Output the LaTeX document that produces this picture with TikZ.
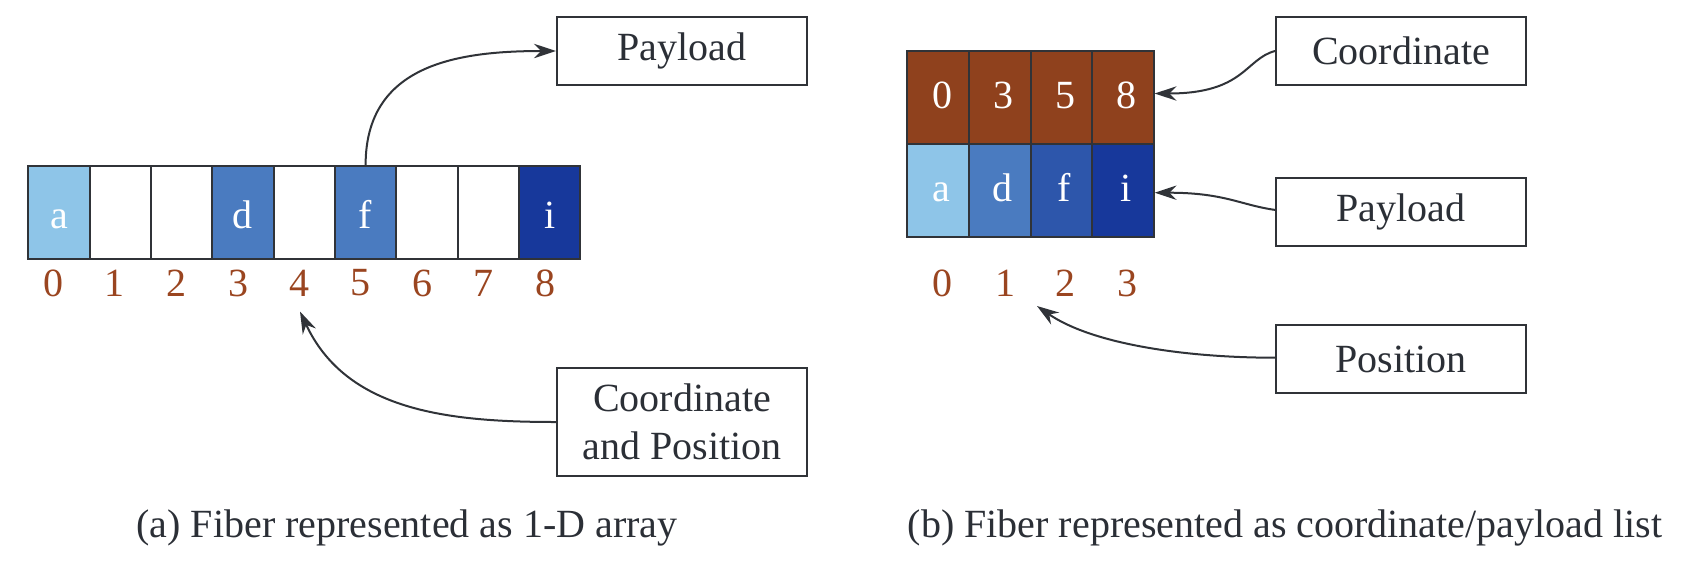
\documentclass[tikz,border=0pt]{standalone}
\usepackage{fontspec}
\setmainfont{Liberation Serif}
\usetikzlibrary{arrows.meta}
\definecolor{brn}{HTML}{8F411D}
\definecolor{lbl}{HTML}{9A4520}
\definecolor{bl1}{HTML}{8EC5E8}
\definecolor{bl2}{HTML}{4A7BC0}
\definecolor{bl3}{HTML}{2D56AB}
\definecolor{bl4}{HTML}{17389B}
\definecolor{ink}{HTML}{2B2F36}
\definecolor{edge}{HTML}{303338}
\begin{document}
\begin{tikzpicture}[x=0.25pt,y=-0.25pt,
  every node/.style={font=\fontsize{10}{12}\selectfont, text=ink},
  cellA/.style={draw=edge, line width=0.5pt, minimum width=15.33pt, minimum height=23.3pt,
    inner sep=0pt, text height=7.8pt, text depth=0pt, text=white},
  cellB/.style={draw=edge, line width=0.5pt, minimum width=15.4pt, minimum height=23.2pt,
    inner sep=0pt, text height=5.4pt, text depth=0pt, text=white},
  idx/.style={text=lbl, inner sep=0pt},
  lbox/.style={draw=edge, line width=0.5pt, minimum width=62.5pt, minimum height=17pt,
    inner sep=0pt, align=center},
  conn/.style={draw=edge, line width=0.5pt},
  tip/.style={-{Stealth[length=5.5pt,width=3.6pt,inset=1.8pt]}}
]
\useasboundingbox (0,0) rectangle (1697,570);

% ---------- (a) 1-D array ----------
\node[cellA, fill=bl1] (a0) at (59.0,212.7) {a};
\node[cellA, fill=white] (a1) at (120.3,212.7) {};
\node[cellA, fill=white] (a2) at (181.6,212.7) {};
\node[cellA, fill=bl2] (a3) at (243.0,212.7) {d};
\node[cellA, fill=white] (a4) at (304.3,212.7) {};
\node[cellA, fill=bl2] (a5) at (365.6,212.7) {f};
\node[cellA, fill=white] (a6) at (427.0,212.7) {};
\node[cellA, fill=white] (a7) at (488.3,212.7) {};
\node[cellA, fill=bl4] (a8) at (549.6,212.7) {i};

\foreach \i/\xx in {0/54,1/115,2/176.5,3/238,4/299.5,5/360.5,6/422,7/483.5,8/545}
  \node[idx] (ia\i) at (\xx,283) {\i};

\node[lbox] (pa) at (682,51) {Payload};
\node[lbox, minimum height=26.85pt] (cpa) at (682,422) {Coordinate\\and Position};

\coordinate (ta) at (300,311.5);
\draw[conn, tip] (a5.north) .. controls +(0,-100) and +(-100,0) .. (pa.west);
\draw[conn, tip] (cpa.west) to[out=180, in=-65] (ta);

\node[anchor=base] (capa) at (407,537) {(a) Fiber represented as 1-D array};

% ---------- (b) coordinate/payload list ----------
\node[cellB, fill=brn] (c0) at (938.2,97.5) {\kern2pt 0};
\node[cellB, fill=brn] (c1) at (999.8,97.5) {\kern2pt 3};
\node[cellB, fill=brn] (c2) at (1061.3,97.5) {\kern2pt 5};
\node[cellB, fill=brn] (c3) at (1122.8,97.5) {\kern2pt 8};
\node[cellB, fill=bl1] (p0) at (938.2,190.3) {\kern1.5pt a};
\node[cellB, fill=bl2] (p1) at (999.8,190.3) {\kern1.5pt d};
\node[cellB, fill=bl3] (p2) at (1061.3,190.3) {\kern1.5pt f};
\node[cellB, fill=bl4] (p3) at (1122.8,190.3) {\kern1.5pt i};

\foreach \i/\xx in {0/942.7,1/1005,2/1065.5,3/1127.3}
  \node[idx] (ib\i) at (\xx,283) {\i};

\node[lbox] (cb) at (1401,51) {Coordinate};
\node[lbox] (pb) at (1401,211.5) {Payload};
\node[lbox] (qb) at (1401,359.3) {Position};

\coordinate (tb) at (1037,306);
\draw[conn, tip] (cb.west) .. controls +(-30,8) and +(90,0) .. ([yshift=1pt]c3.east);
\draw[conn, tip] ([yshift=0.4pt]pb.west) .. controls +(-35,-5) and +(70,0) .. ([yshift=-0.6pt]p3.east);
\draw[conn, tip] ([yshift=0.4pt]qb.west) .. controls +(-90,0) and +(55,38) .. (tb);

\node[anchor=base] (capb) at (1285,537) {(b) Fiber represented as coordinate/payload list};
\end{tikzpicture}
\end{document}
